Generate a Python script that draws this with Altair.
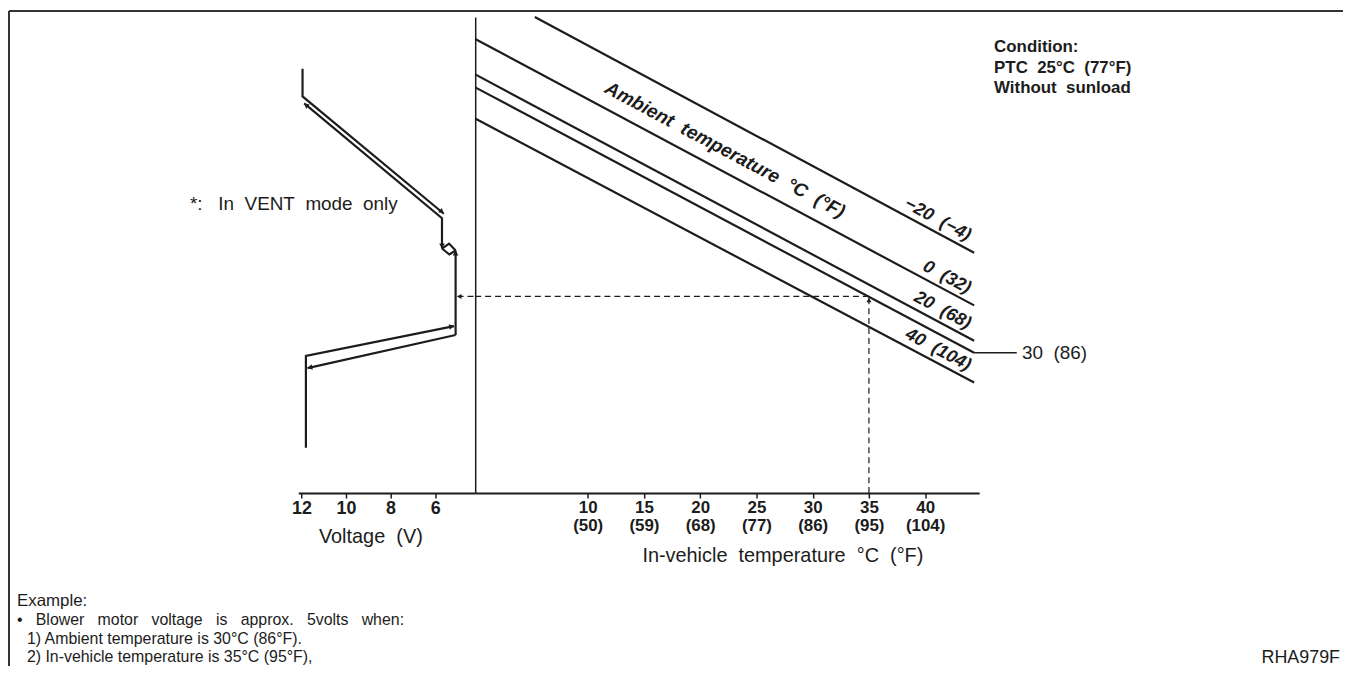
import altair as alt
import pandas as pd

NB = "\u00a0"  # wider word spacing, as in the reference lettering

# ---------------- data ----------------
# Right panel: ambient-temperature lines, in-vehicle temp (°C) -> control level (0..100)
amb_names = ["-20", "0", "20", "30", "40"]
amb_labels = ["−20" + NB + " (−4)", "0" + NB + " (32)", "20" + NB + " (68)",
              "30" + NB + " (86)", "40" + NB + " (104)"]
amb_t_start = [5.3, 0.0, 0.0, 0.0, 0.0]
amb_lvl_start = [100.0, 95.37, 87.93, 85.21, 78.67]
amb_t_end = [44.35, 44.35, 44.35, 44.35, 44.35]
amb_lvl_end = [50.49, 39.42, 31.98, 29.46, 23.22]
amb_label_t = [43.46, 43.46, 43.46, None, 43.46]

# Left panel: blower motor voltage trace (hysteresis); level 0..100
trace_id = ["a", "a", "a", "b", "b", "b", "c", "c", "c", "d", "d", "d",
            "e", "e", "f", "f", "g", "g", "g"]
trace_v = [11.955, 11.955, 5.607, 11.879, 5.692, 5.692, 5.692, 5.375, 5.080,
           5.692, 5.362, 5.080, 5.080, 5.080, 5.080, 11.732, 5.152, 11.804, 11.804]
trace_lvl = [89.14, 83.30, 58.66, 81.84, 57.72, 51.36, 51.36, 52.40, 50.94,
             51.36, 50.10, 50.94, 50.94, 33.19, 33.19, 26.24, 35.07, 28.81, 9.54]

arrow_v = [11.795, 5.70, 5.692, 5.080, 5.259, 11.625]
arrow_lvl = [81.5, 59.1, 51.88, 50.42, 34.97, 26.35]
arrow_dir = [310, 130, 180, 0, 79, 258]

# Example reading: 35 °C in-vehicle, 30 °C ambient -> approx. 5 V
ex_volt = 5.08
ex_in_temp = 35.0
ex_level = 41.3
ex_amb_line = "30"

volt_ticks = [12, 10, 8, 6]
temp_ticks = [10, 15, 20, 25, 30, 35, 40]

# ---------------- tables ----------------
rows = []
for n, ts, ls, te, le in zip(amb_names, amb_t_start, amb_lvl_start, amb_t_end, amb_lvl_end):
    rows.append({"name": n, "t": ts, "lvl": ls, "o": 0})
    rows.append({"name": n, "t": te, "lvl": le, "o": 1})
amb_df = pd.DataFrame(rows)


def level_at(i, t):
    return amb_lvl_start[i] + (amb_lvl_end[i] - amb_lvl_start[i]) * (t - amb_t_start[i]) / (amb_t_end[i] - amb_t_start[i])


lab_rows = []
for i, (lab, lt) in enumerate(zip(amb_labels, amb_label_t)):
    if lt is not None:
        lab_rows.append({"t": lt, "lvl": level_at(i, lt), "text": lab})
amb_lab_df = pd.DataFrame(lab_rows)

i30 = amb_names.index(ex_amb_line)
lead_df = pd.DataFrame({"t": [amb_t_end[i30], 48.14], "lvl": [amb_lvl_end[i30]] * 2})
lab30_df = pd.DataFrame({"t": [48.6], "lvl": [amb_lvl_end[i30]], "text": [amb_labels[i30]]})

title_t = 22.2
l_top, l_bot = level_at(0, title_t), level_at(1, title_t)
title_df = pd.DataFrame({"t": [title_t],
                         "lvl": [l_bot + 0.42 * (l_top - l_bot)],
                         "text": [NB.join(["Ambient ", "temperature ", "°C ", "(°F)"])]})

trace_df = pd.DataFrame({"id": trace_id, "v": trace_v, "lvl": trace_lvl,
                         "o": list(range(len(trace_id)))})
arrow_df = pd.DataFrame({"v": arrow_v, "lvl": arrow_lvl, "ang": arrow_dir})

dash_h_right = pd.DataFrame({"t": [0.0, ex_in_temp], "lvl": [ex_level, ex_level]})
dash_v_right = pd.DataFrame({"t": [ex_in_temp, ex_in_temp], "lvl": [0.0, level_at(i30, ex_in_temp)]})
dash_arrow_up = pd.DataFrame({"t": [ex_in_temp], "lvl": [level_at(i30, ex_in_temp) - 0.7]})
dash_h_left = pd.DataFrame({"v": [ex_volt - 0.09, 4.2], "lvl": [ex_level, ex_level]})
dash_arrow_left = pd.DataFrame({"v": [ex_volt - 0.165], "lvl": [ex_level]})
vent_df = pd.DataFrame({"v": [7.68], "lvl": [60.75],
                        "text": ["*:" + NB + NB + " In" + NB + " VENT" + NB + " mode" + NB + " only"]})

one = pd.DataFrame({"k": [0]})

# ---------------- styling ----------------
INK = "#1c1c1c"
FONT = "Liberation Sans"
W_L, W_R, H = 178, 507, 479

yscale = alt.Scale(domain=[0, 100], nice=False, zero=False)
vscale = alt.Scale(domain=[4.2, 12.147], reverse=True, nice=False, zero=False)
tscale = alt.Scale(domain=[0, 44.8], nice=False, zero=False)

v_axis = alt.Axis(values=volt_ticks, title="Voltage" + NB + " (V)", format="d",
                  labelFontWeight="bold", labelFontSize=18, labelFont=FONT,
                  labelPadding=2, tickSize=5, tickWidth=1.5, domainWidth=2,
                  labelFlush=False, labelOverlap=False,
                  titleFontWeight="normal", titleFontSize=20, titleFont=FONT,
                  titleX=72.5, titleY=50, titleAlign="center", titleBaseline="alphabetic",
                  titleColor=INK, labelColor=INK, domainColor=INK, tickColor=INK)
t_axis = alt.Axis(values=temp_ticks,
                  title=NB.join(["In-vehicle ", "temperature ", "°C ", "(°F)"]),
                  labelExpr="[datum.label, '(' + (datum.value*9/5+32) + ')']",
                  labelLineHeight=18,
                  labelFontWeight="bold", labelFontSize=17, labelFont=FONT,
                  labelPadding=2, tickSize=5, tickWidth=1.5, domainWidth=2,
                  labelFlush=False, labelOverlap=False,
                  titleFontWeight="normal", titleFontSize=20, titleFont=FONT,
                  titleX=309, titleY=69, titleAlign="center", titleBaseline="alphabetic",
                  titleColor=INK, labelColor=INK, domainColor=INK, tickColor=INK)
y_axis_right = alt.Axis(title=None, labels=False, ticks=False, domainWidth=1.5,
                        domainColor=INK)

XV = lambda: alt.X("v:Q", scale=vscale, axis=v_axis)
YL = lambda: alt.Y("lvl:Q", scale=yscale, axis=None)
XT = lambda: alt.X("t:Q", scale=tscale, axis=t_axis)
YR = lambda: alt.Y("lvl:Q", scale=yscale, axis=y_axis_right)

# ---------------- left panel ----------------
trace = alt.Chart(trace_df).mark_line(color=INK, strokeWidth=2.2, strokeJoin="miter").encode(
    x=XV(), y=YL(), detail="id:N", order="o:Q")
arrows = alt.Chart(arrow_df).mark_point(shape="triangle-up", filled=True, color=INK,
                                        size=32, opacity=1).encode(
    x=XV(), y=YL(), angle=alt.Angle("ang:Q", scale=None))
dash_l = alt.Chart(dash_h_left).mark_line(color=INK, strokeWidth=1.2, strokeDash=[6, 4]).encode(
    x=XV(), y=YL())
dash_al = alt.Chart(dash_arrow_left).mark_point(shape="triangle-left", filled=True, color=INK,
                                                size=26, opacity=1).encode(x=XV(), y=YL())
vent = alt.Chart(vent_df).mark_text(align="right", baseline="middle", font=FONT,
                                    fontSize=19, color=INK).encode(x=XV(), y=YL(), text="text:N")

frame_top = alt.Chart(one).mark_rule(color="#333333", strokeWidth=2).encode(
    x=alt.value(-291), x2=alt.value(1051), y=alt.value(-6))
frame_left = alt.Chart(one).mark_rule(color="#333333", strokeWidth=2).encode(
    x=alt.value(-291), y=alt.value(-6), y2=alt.value(653))


def note(txt, x, y, **kw):
    props = dict(font=FONT, fontSize=16, color=INK, baseline="middle")
    props.update(kw)
    return alt.Chart(one).mark_text(**props).encode(
        x=alt.value(x), y=alt.value(y), text=alt.value(txt))


G2 = NB + NB + " "
ex_lines = [
    note("Example:", -283, 588, align="left", fontSize=17),
    note("•" + G2 + "Blower" + G2 + "motor" + G2 + "voltage" + G2 + "is" + G2 + "approx." + G2
         + "5volts" + G2 + "when:", -283, 607, align="left"),
    note("1) Ambient temperature is 30°C (86°F).", -273, 625.5, align="left"),
    note("2) In-vehicle temperature is 35°C (95°F),", -273, 644, align="left"),
]

left = alt.layer(trace, arrows, dash_l, dash_al, vent, frame_top, frame_left, *ex_lines).properties(
    width=W_L, height=H)

# ---------------- right panel ----------------
amb = alt.Chart(amb_df).mark_line(color=INK, strokeWidth=2.2).encode(
    x=XT(), y=YR(), detail="name:N", order="o:Q")
lead = alt.Chart(lead_df).mark_line(color=INK, strokeWidth=1.5).encode(x=XT(), y=YR())
dash_h = alt.Chart(dash_h_right).mark_line(color=INK, strokeWidth=1.2, strokeDash=[6, 4]).encode(
    x=XT(), y=YR())
dash_v = alt.Chart(dash_v_right).mark_line(color=INK, strokeWidth=1.2, strokeDash=[6, 4]).encode(
    x=XT(), y=YR())
dash_au = alt.Chart(dash_arrow_up).mark_point(shape="triangle-up", filled=True, color=INK,
                                              size=26, opacity=1).encode(x=XT(), y=YR())
amb_labs = alt.Chart(amb_lab_df).mark_text(align="right", baseline="bottom", angle=28, dy=-3,
                                           font=FONT, fontSize=18, fontStyle="italic",
                                           fontWeight="bold", color=INK).encode(
    x=XT(), y=YR(), text="text:N")
amb_title = alt.Chart(title_df).mark_text(align="center", baseline="middle", angle=28,
                                          font=FONT, fontSize=19, fontStyle="italic",
                                          fontWeight="bold", color=INK).encode(
    x=XT(), y=YR(), text="text:N")
lab30 = alt.Chart(lab30_df).mark_text(align="left", baseline="middle", font=FONT, fontSize=19,
                                      color=INK).encode(
    x=XT(), y=YR(), text="text:N")

cond = [
    note("Condition:", 522, 30, align="left", fontWeight="bold", fontSize=17),
    note("PTC" + NB + " 25°C" + NB + " (77°F)", 522, 51, align="left", fontWeight="bold", fontSize=17),
    note("Without" + NB + " sunload", 522, 72, align="left", fontWeight="bold", fontSize=17),
    note("RHA979F", 870, 645, align="right", fontSize=18),
]

right = alt.layer(amb, lead, dash_h, dash_v, dash_au, amb_labs, amb_title, lab30, *cond).properties(
    width=W_R, height=H)

chart = alt.hconcat(left, right, spacing=0, bounds="flush").properties(
    padding=0, background="white"
).configure_view(strokeWidth=0).configure_axis(grid=False)

chart.save("out.html", embed_options={"renderer": "svg", "actions": False})
